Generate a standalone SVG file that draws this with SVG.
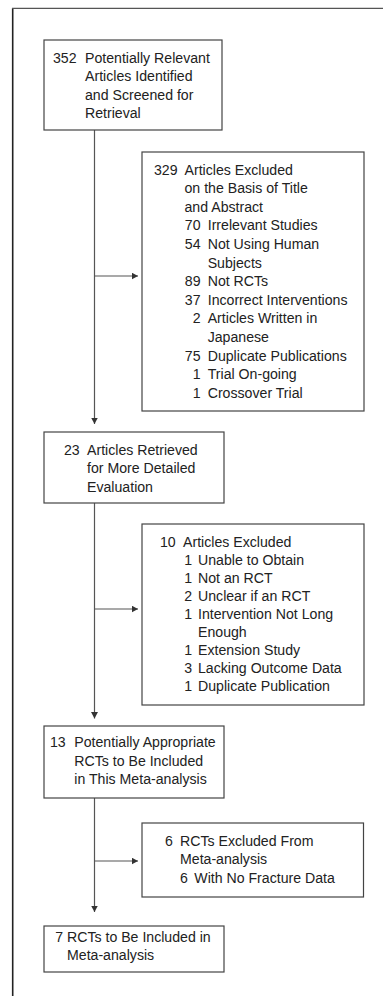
<svg xmlns="http://www.w3.org/2000/svg" width="383" height="996" viewBox="0 0 383 996">
<style>
.t{font-family:"Liberation Sans",Arial,Helvetica,sans-serif;font-size:15px;fill:#222}
.n{text-anchor:end}
.box{fill:#fff;stroke:#444;stroke-width:1.2}
.ln{fill:none;stroke:#555;stroke-width:1.2}
</style>
<defs>
<marker id="ah" markerUnits="userSpaceOnUse" markerWidth="7" markerHeight="7" refX="6.5" refY="3.5" orient="auto">
<path d="M0,0 L6.5,3.5 L0,7 z" fill="#333"/>
</marker>
</defs>
<rect width="383" height="996" fill="#fff"/>
<g id="frame">
<line x1="12.7" y1="8.3" x2="12.7" y2="996" stroke="#222" stroke-width="1.6"/>
<line x1="12" y1="8.3" x2="383" y2="8.3" stroke="#555" stroke-width="1.3"/>
</g>
<g id="connectors">
<line class="ln" x1="94.5" y1="130" x2="94.5" y2="424" marker-end="url(#ah)"/>
<line class="ln" x1="94.5" y1="276" x2="138" y2="276" marker-end="url(#ah)"/>
<line class="ln" x1="94.5" y1="503" x2="94.5" y2="718.5" marker-end="url(#ah)"/>
<line class="ln" x1="94.5" y1="609" x2="138" y2="609" marker-end="url(#ah)"/>
<line class="ln" x1="94.5" y1="798" x2="94.5" y2="912" marker-end="url(#ah)"/>
<line class="ln" x1="94.5" y1="861" x2="138" y2="861" marker-end="url(#ah)"/>
</g>
<g id="n1">
<rect class="box" x="44" y="40" width="178" height="90"/>
<text class="t" transform="translate(53 62.5) scale(.943 1)">352</text>
<text class="t" transform="translate(85 62.5) scale(.943 1)">Potentially Relevant</text>
<text class="t" transform="translate(85 81) scale(.943 1)">Articles Identified</text>
<text class="t" transform="translate(85 99.5) scale(.943 1)">and Screened for</text>
<text class="t" transform="translate(85 118) scale(.943 1)">Retrieval</text>
</g>
<g id="n2">
<rect class="box" x="142" y="152" width="222" height="259"/>
<text class="t" transform="translate(154 174.5) scale(.943 1)">329</text>
<text class="t" transform="translate(184.5 174.5) scale(.943 1)">Articles Excluded</text>
<text class="t" transform="translate(184.5 193.1) scale(.943 1)">on the Basis of Title</text>
<text class="t" transform="translate(184.5 211.7) scale(.943 1)">and Abstract</text>
<text class="t n" transform="translate(200.5 230.3) scale(.943 1)">70</text>
<text class="t" transform="translate(207.7 230.3) scale(.943 1)">Irrelevant Studies</text>
<text class="t n" transform="translate(200.5 248.9) scale(.943 1)">54</text>
<text class="t" transform="translate(207.7 248.9) scale(.943 1)">Not Using Human</text>
<text class="t" transform="translate(207.7 267.5) scale(.943 1)">Subjects</text>
<text class="t n" transform="translate(200.5 286.1) scale(.943 1)">89</text>
<text class="t" transform="translate(207.7 286.1) scale(.943 1)">Not RCTs</text>
<text class="t n" transform="translate(200.5 304.7) scale(.943 1)">37</text>
<text class="t" transform="translate(207.7 304.7) scale(.943 1)">Incorrect Interventions</text>
<text class="t n" transform="translate(200.5 323.3) scale(.943 1)">2</text>
<text class="t" transform="translate(207.7 323.3) scale(.943 1)">Articles Written in</text>
<text class="t" transform="translate(207.7 341.9) scale(.943 1)">Japanese</text>
<text class="t n" transform="translate(200.5 360.5) scale(.943 1)">75</text>
<text class="t" transform="translate(207.7 360.5) scale(.943 1)">Duplicate Publications</text>
<text class="t n" transform="translate(200.5 379.1) scale(.943 1)">1</text>
<text class="t" transform="translate(207.7 379.1) scale(.943 1)">Trial On-going</text>
<text class="t n" transform="translate(200.5 397.7) scale(.943 1)">1</text>
<text class="t" transform="translate(207.7 397.7) scale(.943 1)">Crossover Trial</text>
</g>
<g id="n3">
<rect class="box" x="44" y="432" width="180" height="71"/>
<text class="t" transform="translate(64 455) scale(.943 1)">23</text>
<text class="t" transform="translate(87 455) scale(.943 1)">Articles Retrieved</text>
<text class="t" transform="translate(87 473.4) scale(.943 1)">for More Detailed</text>
<text class="t" transform="translate(87 491.8) scale(.943 1)">Evaluation</text>
</g>
<g id="n4">
<rect class="box" x="142" y="524" width="222" height="181"/>
<text class="t" transform="translate(160 546.5) scale(.943 1)">10</text>
<text class="t" transform="translate(183 546.5) scale(.943 1)">Articles Excluded</text>
<text class="t n" transform="translate(192 564.6) scale(.943 1)">1</text>
<text class="t" transform="translate(198 564.6) scale(.943 1)">Unable to Obtain</text>
<text class="t n" transform="translate(192 582.7) scale(.943 1)">1</text>
<text class="t" transform="translate(198 582.7) scale(.943 1)">Not an RCT</text>
<text class="t n" transform="translate(192 600.8) scale(.943 1)">2</text>
<text class="t" transform="translate(198 600.8) scale(.943 1)">Unclear if an RCT</text>
<text class="t n" transform="translate(192 618.9) scale(.943 1)">1</text>
<text class="t" transform="translate(198 618.9) scale(.943 1)">Intervention Not Long</text>
<text class="t" transform="translate(198 637) scale(.943 1)">Enough</text>
<text class="t n" transform="translate(192 655.1) scale(.943 1)">1</text>
<text class="t" transform="translate(198 655.1) scale(.943 1)">Extension Study</text>
<text class="t n" transform="translate(192 673.2) scale(.943 1)">3</text>
<text class="t" transform="translate(198 673.2) scale(.943 1)">Lacking Outcome Data</text>
<text class="t n" transform="translate(192 691.3) scale(.943 1)">1</text>
<text class="t" transform="translate(198 691.3) scale(.943 1)">Duplicate Publication</text>
</g>
<g id="n5">
<rect class="box" x="44" y="726" width="180" height="72"/>
<text class="t" transform="translate(50 747.4) scale(.943 1)">13</text>
<text class="t" transform="translate(74.3 747.4) scale(.943 1)">Potentially Appropriate</text>
<text class="t" transform="translate(74.3 765.7) scale(.943 1)">RCTs to Be Included</text>
<text class="t" transform="translate(74.3 784) scale(.943 1)">in This Meta-analysis</text>
</g>
<g id="n6">
<rect class="box" x="142" y="823" width="221.5" height="74"/>
<text class="t" transform="translate(165 845.5) scale(.943 1)">6</text>
<text class="t" transform="translate(180 845.5) scale(.943 1)">RCTs Excluded From</text>
<text class="t" transform="translate(180 864) scale(.943 1)">Meta-analysis</text>
<text class="t" transform="translate(180 882.5) scale(.943 1)">6</text>
<text class="t" transform="translate(194.3 882.5) scale(.943 1)">With No Fracture Data</text>
</g>
<g id="n7">
<rect class="box" x="44" y="926" width="180" height="46"/>
<text class="t n" transform="translate(63 941.5) scale(.943 1)">7</text>
<text class="t" transform="translate(67 941.5) scale(.943 1)">RCTs to Be Included in</text>
<text class="t" transform="translate(67 960) scale(.943 1)">Meta-analysis</text>
</g>
</svg>
